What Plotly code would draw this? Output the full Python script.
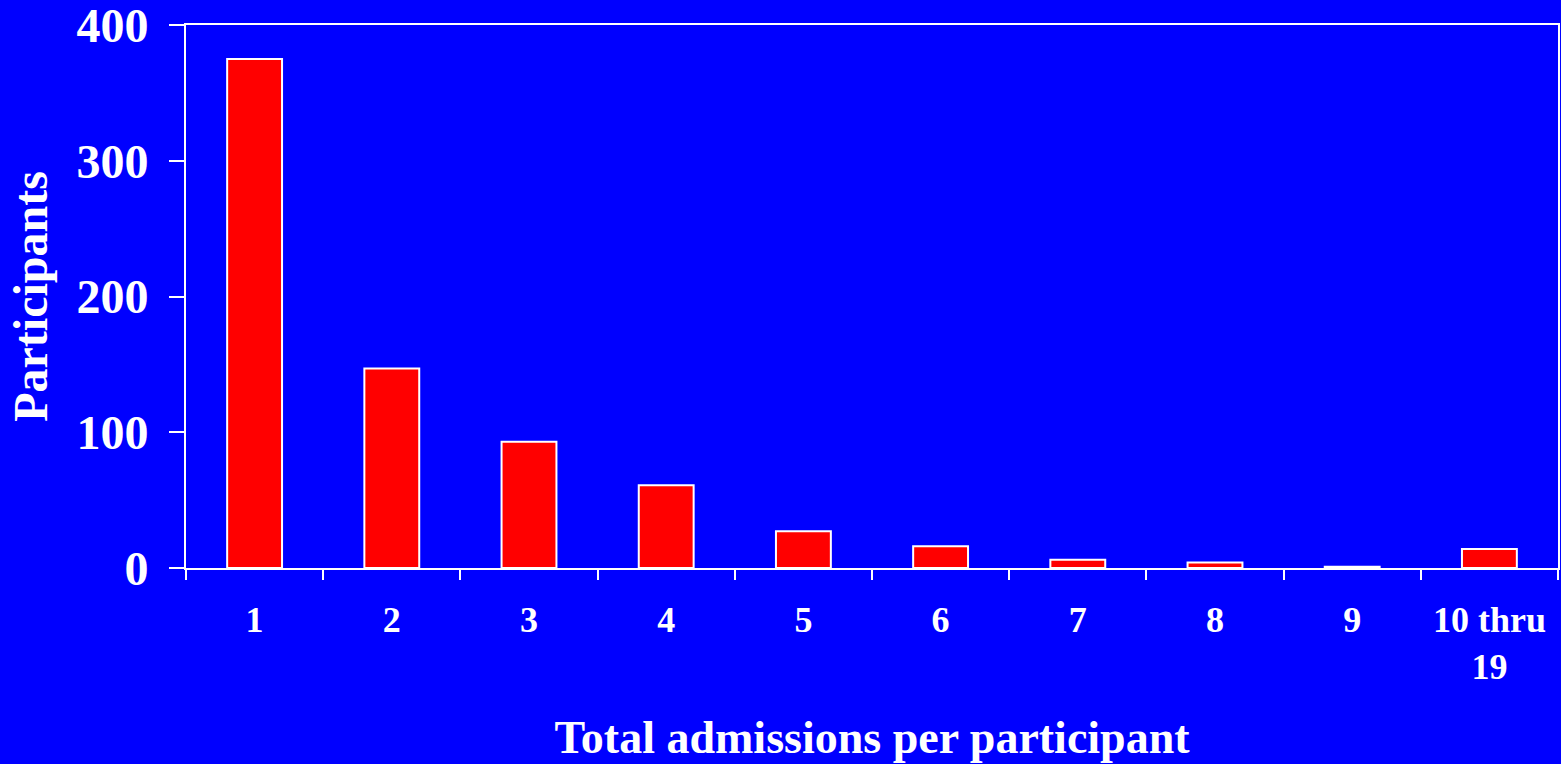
import plotly.graph_objects as go

categories = ["1", "2", "3", "4", "5", "6", "7", "8", "9", "10 thru<br>19"]
participants = [375, 147, 93, 61, 27, 16, 6, 4, 1, 14]
y_ticks = [0, 100, 200, 300, 400]

BLUE = "#0000FF"
RED = "#FF0000"
FONT = "Liberation Serif"

fig = go.Figure()
fig.add_trace(go.Bar(
    x=categories,
    y=participants,
    width=0.4,
    marker=dict(color=RED, line=dict(color="white", width=2)),
))

fig.update_layout(
    width=1561,
    height=764,
    paper_bgcolor=BLUE,
    plot_bgcolor=BLUE,
    margin=dict(l=186, r=3, t=25, b=196, autoexpand=False),
    showlegend=False,
    font=dict(family=FONT, color="white"),
)

fig.update_xaxes(
    type="category",
    showgrid=False,
    showline=True,
    linecolor="white",
    linewidth=2,
    mirror=True,
    ticks="outside",
    tickson="boundaries",
    ticklen=10,
    tickwidth=2,
    tickcolor="white",
    ticklabelstandoff=19,
    ticklabeloverflow="allow",
    tickfont=dict(family=FONT, size=36, color="white", weight="bold"),
    title=dict(text="<b>Total admissions per participant</b>",
               font=dict(family=FONT, size=46, color="white"), standoff=35),
    automargin=False,
)

fig.update_yaxes(
    range=[0, 400],
    tickvals=y_ticks,
    showgrid=False,
    zeroline=False,
    showline=True,
    linecolor="white",
    linewidth=2,
    mirror=True,
    ticks="outside",
    ticklen=15,
    tickwidth=2,
    tickcolor="white",
    ticklabelstandoff=11,
    ticklabeloverflow="allow",
    tickfont=dict(family=FONT, size=48, color="white", weight="bold"),
    title=dict(text="<b>Participants</b>",
               font=dict(family=FONT, size=48, color="white"), standoff=14),
    automargin=False,
)

fig.write_html("out.html")
